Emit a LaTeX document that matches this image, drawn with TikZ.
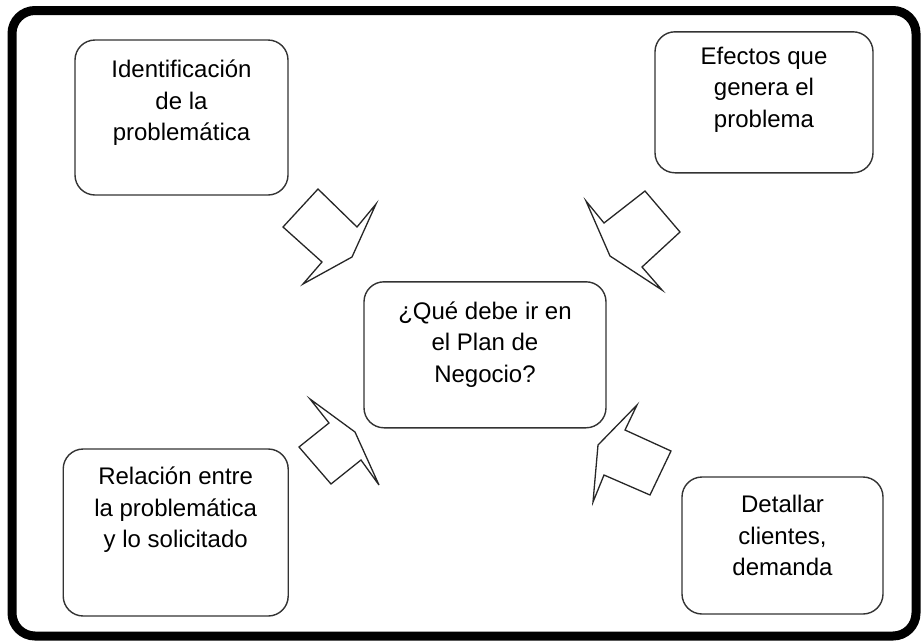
\documentclass[tikz,border=0pt]{standalone}
\usepackage{fontspec}
\setmainfont{Liberation Sans}
\definecolor{boxline}{HTML}{333333}
\begin{document}
\begin{tikzpicture}[x=1pt,y=-1pt,
  topicbox/.style={draw=boxline, line width=1.4pt, rounded corners=20pt, inner sep=0pt},
  topictext/.style={align=center, anchor=north, inner sep=0pt, font=\fontsize{24}{31.5}\selectfont, text=black},
  bigarrow/.style={draw=black!85, line width=1.3pt, line join=miter, fill=white}]
\useasboundingbox (0,0) rectangle (921,641);
% outer frame
\draw[line width=9pt, rounded corners=23pt] (12,10.5) rectangle (916,636);
% boxes
\node[topicbox, minimum width=213pt, minimum height=155pt] (tl) at (181.5,117.5) {};
\node[topicbox, minimum width=218pt, minimum height=141pt] (tr) at (764,102.3) {};
\node[topicbox, minimum width=242pt, minimum height=146pt] (cc) at (485,354.8) {};
\node[topicbox, minimum width=225pt, minimum height=167pt] (bl) at (175.7,532.5) {};
\node[topicbox, minimum width=201pt, minimum height=137pt] (br) at (782.5,545.5) {};
% texts
\node[topictext] (tltext) at ([yshift=-16pt]tl.north) {\strut Identificación\\de la\\problemática};
\node[topictext] (trtext) at ([yshift=-11pt]tr.north) {\strut Efectos que\\genera el\\problema};
\node[topictext] (cctext) at ([yshift=-16pt]cc.north) {\strut ¿Qué debe ir en\\el Plan de\\Negocio?};
\node[topictext] (bltext) at ([yshift=-14pt]bl.north) {\strut Relación entre\\la problemática\\y lo solicitado};
\node[topictext] (brtext) at ([yshift=-14pt]br.north) {\strut Detallar\\clientes,\\demanda};
% arrows
\draw[bigarrow] (318,189) -- (357,227) -- (376,204) -- (352,257) -- (303,284) -- (322,262) -- (283,227) -- cycle;
\draw[bigarrow] (645,191) -- (680,232) -- (642,267) -- (662,290) -- (610,256) -- (586,201) -- (604,223) -- cycle;
\draw[bigarrow] (310,399) -- (355,432) -- (379,485) -- (361,460) -- (331,484) -- (299,447) -- (329,423) -- cycle;
\draw[bigarrow] (637,405) -- (625,430) -- (671,451) -- (650,495) -- (604,475) -- (593,502) -- (598,445) -- cycle;
\end{tikzpicture}
\end{document}
